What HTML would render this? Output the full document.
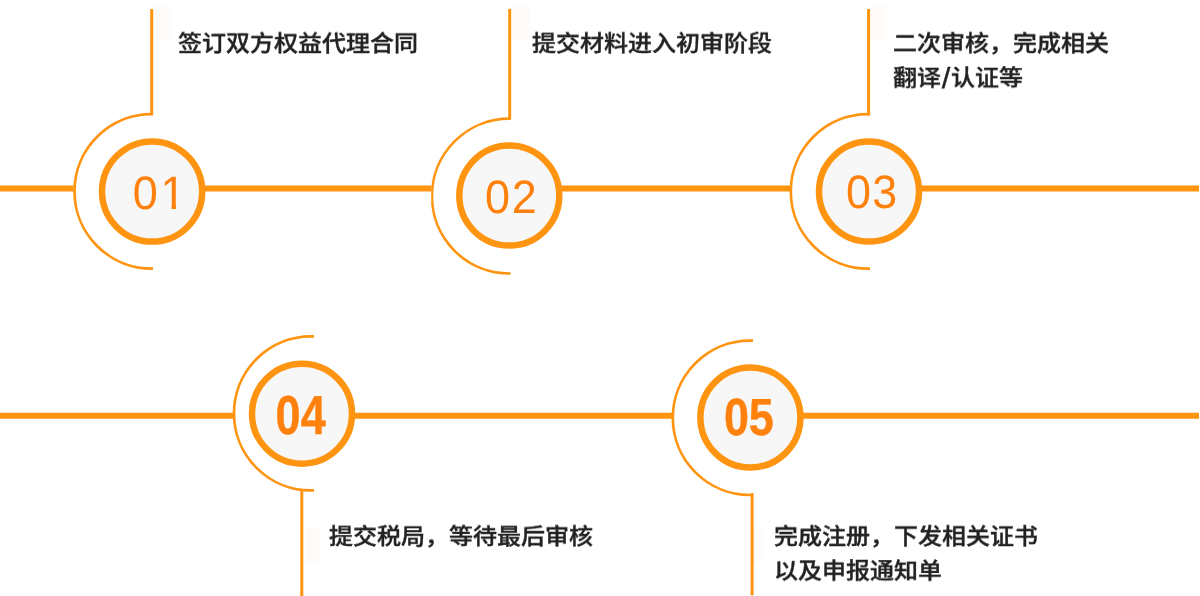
<!DOCTYPE html>
<html lang="zh-CN">
<head>
<meta charset="utf-8">
<title>注册流程</title>
<style>
html,body{margin:0;padding:0;background:#fff;}
body{width:1200px;height:596px;position:relative;overflow:hidden;
  font-family:"Liberation Sans","Noto Sans CJK SC",sans-serif;}
svg{position:absolute;left:0;top:0;display:block;will-change:transform;}
.t{position:absolute;margin:0;font-size:24px;line-height:37.3px;font-weight:500;-webkit-text-stroke:.4px #222;color:#222;will-change:transform;white-space:nowrap;letter-spacing:0;transform-origin:0 0;transform:scaleY(.93);}
.t i{font-style:normal;font-weight:400;font-size:31px;line-height:0;display:inline-block;position:relative;top:2.4px;margin:0 .6px 0 .7px;}
.n{font-family:"Liberation Sans",sans-serif;fill:#ff810d;text-rendering:geometricPrecision;}
.nb{font-family:"Liberation Sans",sans-serif;font-weight:700;fill:#ff810d;text-rendering:geometricPrecision;}
</style>
</head>
<body>
<svg width="1200" height="596" viewBox="0 0 1200 596">
  <!-- faint tint blocks -->
  <rect x="154.5" y="5.2" width="16.3" height="34.8" fill="#fffbf8"/>
  <rect x="512.6" y="5.5" width="17.6" height="34.8" fill="#fffbf8"/>
  <rect x="870.8" y="5.2" width="14" height="34.8" fill="#fffbf8"/>
  <rect x="305.8" y="527.4" width="14.1" height="35.2" fill="#fffbf8"/>
  <rect x="754.2" y="527.4" width="8.8" height="34.8" fill="#fffbf8"/>

  <defs>
    <clipPath id="c2"><rect x="431.2" y="100" width="120" height="200"/></clipPath>
  </defs>
  <g fill="none" stroke="#ff9411">
    <!-- horizontal rails -->
    <g stroke-width="6">
      <path d="M0 188.5H73.5M204 188.5H431.2M562 188.5H790M922 188.5H1199"/>
      <path d="M0 415.7H233M355 415.7H672M803 415.7H1199"/>
    </g>
    <!-- vertical stems -->
    <g stroke-width="3">
      <path d="M151.7 9V115"/>
      <path d="M509.7 9V119.5"/>
      <path d="M868.6 9V115.5"/>
      <path d="M301.8 490V596"/>
      <path d="M752.1 493V595.3"/>
    </g>
    <!-- outer arcs -->
    <g stroke-width="2.7">
      <path d="M153 114.2H151.7A77.2 77.2 0 0 0 151.7 268.6H153"/>
      <path clip-path="url(#c2)" d="M510.5 118.7H509.3A77.4 77.4 0 0 0 509.3 273.5H510.5"/>
      <path d="M870 114.2H868A77.2 77.2 0 0 0 868 268.6H870"/>
      <path d="M314 336.4H311A77 77 0 0 0 311 490.4H314"/>
      <path d="M753 340.6H750A77.2 77.2 0 0 0 750 495H753"/>
    </g>
    <!-- rings -->
    <g stroke-width="6.5" fill="#f7f7f7">
      <circle cx="152.1" cy="191.5" r="50.1"/>
      <circle cx="509.3" cy="195.6" r="50"/>
      <circle cx="869" cy="191.6" r="50"/>
      <circle cx="302" cy="413.7" r="50"/>
      <circle cx="750.4" cy="417.5" r="50"/>
    </g>
  </g>

  <defs>
    <clipPath id="c1"><path d="M-5 -45H60V-4.3H-5ZM-5 -4.4H27V5H-5ZM40.5 -4.4H45.15V5H40.5Z"/></clipPath>
  </defs>
  <text class="n" transform="translate(132.7 209.1) scale(.96 1)" dx="0 2.8" font-size="46.8" clip-path="url(#c1)">01</text>
  <text class="n" transform="translate(485 212.7) scale(.96 1)" dx="0 1.8" font-size="46.8">02</text>
  <text class="n" transform="translate(845.9 207.7) scale(.96 1)" dx="0 1.3" font-size="46.8">03</text>
  <text class="nb" transform="translate(275.4 433.5) scale(.82 1)" dx="0 0.3" font-size="54.8" stroke="#ff810d" stroke-width=".4">04</text>
  <text class="nb" transform="translate(723.9 435.2) scale(.86 1)" font-size="52.2" stroke="#ff810d" stroke-width=".4">05</text>
</svg>

<p class="t" style="left:178px;top:26.1px;">签订双方权益代理合同</p>
<p class="t" style="left:532px;top:26.1px;">提交材料进入初审阶段</p>
<p class="t" style="left:893px;top:26.1px;">二次审核，完成相关<br>翻译<i>/</i>认证等</p>
<p class="t" style="left:329.3px;top:518.8px;">提交税局，等待最后审核</p>
<p class="t" style="left:774.2px;top:518.8px;">完成注册，下发相关证书<br>以及申报通知单</p>
</body>
</html>
